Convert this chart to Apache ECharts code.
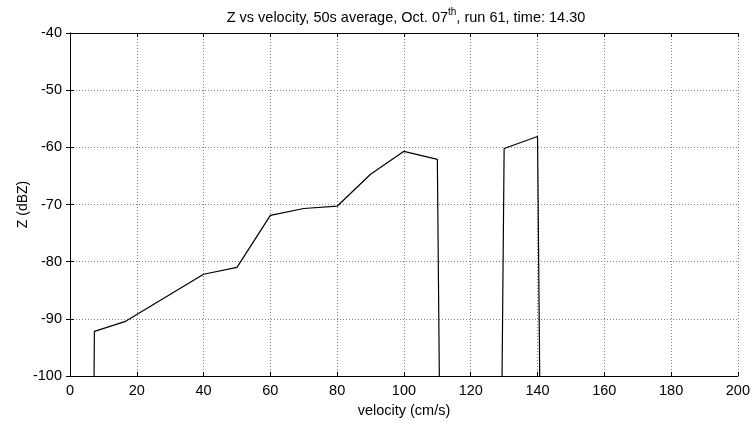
<!DOCTYPE html>
<html>
<head>
<meta charset="utf-8">
<script src="https://cdn.jsdelivr.net/npm/echarts@6/dist/echarts.min.js"></script>
<style>
html,body{margin:0;padding:0;background:#fff;}
#chart{width:753px;height:423px;}
</style>
</head>
<body>
<div id="chart"></div>
<script>
// velocity (cm/s) sample positions
const velocity = [0, 7.3, 16.4, 40, 50, 60, 70, 80, 90, 100, 110, 120, 130, 140, 150];
// Z (dBZ) values; very low values fall below the axis floor
const zValues = [-700, -92.2, -90.5, -82.2, -81.0, -71.9, -70.7, -70.3, -64.7, -60.7, -62.1, -700, -60.2, -58.1, -700];
const xTicks = [0, 20, 40, 60, 80, 100, 120, 140, 160, 180, 200];
const yTicks = [-100, -90, -80, -70, -60, -50, -40];

const seriesData = velocity.map((v, i) => [v, zValues[i]]);
const font = 'Liberation Sans, Arial, sans-serif';

const chart = echarts.init(document.getElementById('chart'), null, {renderer: 'canvas'});

const baseAxisLine = {show: true, lineStyle: {color: '#000', width: 1}};
const tick = {show: true, inside: true, length: 4, lineStyle: {color: '#000', width: 1}};

chart.setOption({
  animation: false,
  backgroundColor: '#fff',
  title: {
    text: 'Z vs velocity, 50s average, Oct. 07{sup|th}, run 61, time: 14.30',
    left: 401,
    top: 2,
    textAlign: 'center',
    textStyle: {
      fontFamily: font, fontSize: 14.5, fontWeight: 'normal', color: '#000',
      rich: {
        sup: {fontFamily: font, fontSize: 10, color: '#000', padding: [0, 0, 11, 0]}
      }
    }
  },
  grid: {left: 70, right: 14, top: 33, bottom: 40, containLabel: false},
  xAxis: [{
    type: 'value', min: xTicks[0], max: xTicks[xTicks.length - 1], interval: 20,
    position: 'bottom',
    name: 'velocity (cm/s)', nameLocation: 'middle', nameGap: 27, nameMoveOverlap: false,
    nameTextStyle: {fontFamily: font, fontSize: 14.5, color: '#000'},
    axisLine: baseAxisLine, axisTick: tick,
    axisLabel: {fontFamily: font, fontSize: 14.5, color: '#000', margin: 7},
    splitLine: {show: true, lineStyle: {color: '#808080', width: 1, type: [1, 2]}}
  }, {
    type: 'value', min: xTicks[0], max: xTicks[xTicks.length - 1], interval: 20,
    position: 'top',
    axisLine: baseAxisLine, axisTick: tick, axisLabel: {show: false}, splitLine: {show: false}
  }],
  yAxis: [{
    type: 'value', min: yTicks[0], max: yTicks[yTicks.length - 1], interval: 10,
    position: 'left',
    name: 'Z (dBZ)', nameLocation: 'middle', nameGap: 40, nameRotate: 90, nameMoveOverlap: false,
    nameTextStyle: {fontFamily: font, fontSize: 14, color: '#000'},
    axisLine: baseAxisLine, axisTick: tick,
    axisLabel: {fontFamily: font, fontSize: 14.5, color: '#000', margin: 8},
    splitLine: {show: true, lineStyle: {color: '#808080', width: 1, type: [1, 2]}}
  }, {
    type: 'value', min: yTicks[0], max: yTicks[yTicks.length - 1], interval: 10,
    position: 'right',
    axisLine: baseAxisLine, axisTick: tick, axisLabel: {show: false}, splitLine: {show: false}
  }],
  series: [{
    type: 'line',
    data: seriesData,
    xAxisIndex: 0, yAxisIndex: 0,
    clip: true,
    showSymbol: false,
    symbol: 'none',
    lineStyle: {color: '#000', width: 1.2},
    silent: true
  }]
});
</script>
</body>
</html>
